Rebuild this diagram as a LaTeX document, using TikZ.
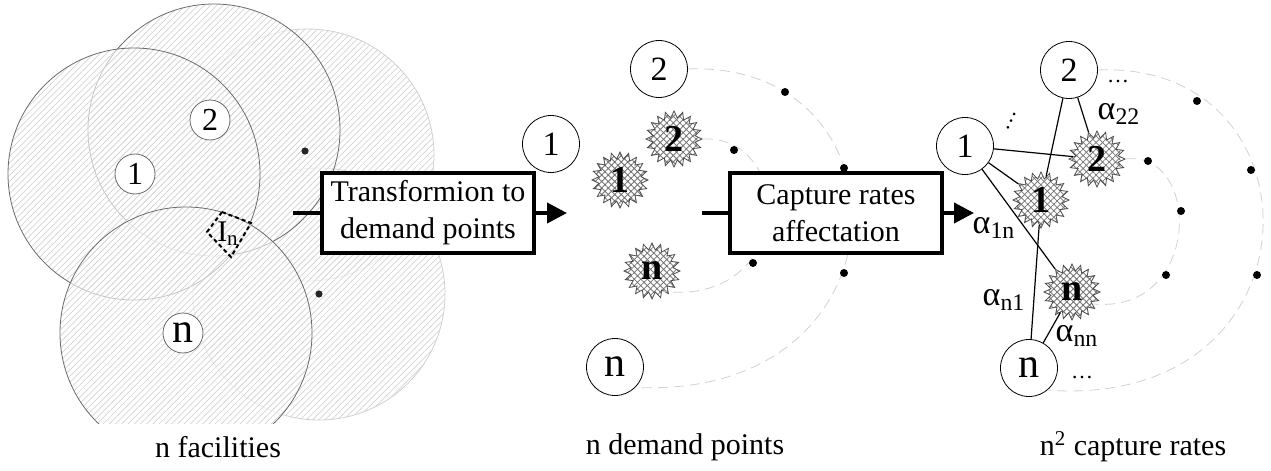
\documentclass[tikz,border=0pt]{standalone}
\usepackage{fontspec}
\setmainfont{Liberation Serif}
\usetikzlibrary{arrows.meta,shapes.geometric,patterns.meta}
\definecolor{hatch}{gray}{0.83}
\definecolor{rim}{gray}{0.42}
\definecolor{faint}{gray}{0.82}
\newcommand{\nbig}{\fontsize{21}{21}\selectfont}
\newcommand{\dotsfont}{\fontsize{11}{11}\selectfont}
\tikzset{
  fac/.style={circle,draw=rim,fill=white,inner sep=0pt,minimum size=20pt,font=\fontsize{16}{16}\selectfont},
  pt/.style={circle,draw,thin,fill=white,inner sep=0pt,minimum size=28.5pt,font=\fontsize{17}{17}\selectfont},
  dem/.style={star,star points=20,star point height=3.4pt,minimum size=28pt,inner sep=0pt,
    draw=black!70,thin,preaction={fill=white},
    pattern={Hatch[angle=45,distance=2.3pt,line width=0.4pt]},pattern color=black!55,
    font=\fontsize{19}{19}\selectfont\bfseries},
  proc/.style={draw,line width=1.8pt,fill=white,align=center,minimum width=106pt,minimum height=40pt,inner sep=2pt},
  flow/.style={line width=2pt},
  flowar/.style={flow,-{Triangle[length=10pt,width=10pt]}},
  orbit/.style={draw=faint,dash pattern=on 5pt off 3pt,thin},
  link/.style={draw=black,line width=0.6pt},
  rate/.style={font=\fontsize{17}{17}\selectfont},
}
\begin{document}
\begin{tikzpicture}[x=0.5pt,y=-0.5pt,font=\fontsize{15}{18.5}\selectfont]
  \useasboundingbox (0,0) rectangle (1271,471);
  % facility ranges
  \begin{scope}
    \clip (0,0) rectangle (460,423);
    \foreach \cx/\cy/\col in {308/155/faint,319/294/faint,214/130/rim,134/174/rim,186/333/rim} {
      \fill[white,fill opacity=0.6] (\cx,\cy) circle[radius=63pt];
      \fill[pattern={Lines[angle=45,distance=2.2pt,line width=0.35pt]},pattern color=hatch] (\cx,\cy) circle[radius=63pt];
      \draw[\col,thin] (\cx,\cy) circle[radius=63pt];
    }
  \end{scope}
  \fill[black!85] (305,151) circle[radius=1.8pt];
  \fill[black!85] (319,294) circle[radius=1.8pt];
  \node[fac] (f1) at (135,174) {1};
  \node[fac] (f2) at (210,120) {2};
  \node[fac,font=\nbig] (fn) at (183,333) {n};
  \node[inner sep=0pt] (In) at (228,234) {I\textsubscript{n}};
  \draw[dash pattern=on 2pt off 1.5pt,line width=1pt] (222,212) -- (251,223) -- (231,257) -- (207,232) -- cycle;

  \node[proc] (tr) at (428,213) {Transformion to\\demand points};
  \coordinate (tr-in) at (293,213);
  \coordinate (tr-out) at (567,213);
  \draw[flow] (tr-in) -- (tr);
  \draw[flowar] (tr) -- (tr-out);

  % demand points
  \node[pt] (d1) at (551,144) {1};
  \node[pt] (d2) at (659,69) {2};
  \node[pt,font=\nbig] (dn) at (615,367) {n};
  \node[dem] (s1) at (620,180) {1};
  \node[dem] (s2) at (674,139) {2};
  \node[dem] (sn) at (652,271) {n};
  \draw[orbit] (d2.east) .. controls (915,60) and (915,400) .. (dn.-45);
  \draw[orbit] (s2.east) .. controls (795,135) and (795,305) .. (sn.-60);
  \foreach \px/\py in {785/92,734/150,844/168,753/263,844/273}
    \fill (\px,\py) circle[radius=2pt];

  \node[proc] (ca) at (836,213) {Capture rates\\affectation};
  \coordinate (ca-in) at (702,213);
  \coordinate (ca-out) at (974,213);
  \draw[flow] (ca-in) -- (ca);
  \draw[flowar] (ca) -- (ca-out);

  % capture rates
  \node[pt] (r1) at (965,146) {1};
  \node[pt] (r2) at (1069,70) {2};
  \node[pt,font=\nbig] (rn) at (1029,368) {n};
  \draw[orbit] (r2.east) .. controls (1326,60) and (1326,410) .. (rn.-50);
  \node[dem] (t1) at (1041,200) {1};
  \node[dem] (t2) at (1097,159) {2};
  \node[dem] (tn) at (1072,292) {n};
  \draw[orbit] (t2.east) .. controls (1202,150) and (1202,315) .. (tn.-30);
  \foreach \a/\b in {r1/t1,r1/t2,r1/tn,r2/t1,r2/t2,rn/t1,rn/tn}
    \draw[link] (\a) -- (\b);
  \foreach \px/\py in {1197/101,1148/161,1251/170,1181/211,1166/275,1257/275}
    \fill (\px,\py) circle[radius=2pt];
  \node[rate] (a22) at (1119,114) {α\textsubscript{22}};
  \node[rate] (a1n) at (994,228) {α\textsubscript{1n}};
  \node[rate] (an1) at (1004,300) {α\textsubscript{n1}};
  \node[rate] (ann) at (1077,336) {α\textsubscript{nn}};
  \node[inner sep=0pt,font=\dotsfont] (e2) at (1118,82) {\ldots};
  \node[inner sep=0pt,font=\dotsfont] (en) at (1082,378) {\ldots};
  \node[inner sep=0pt,font=\dotsfont,rotate=65] (e1) at (1011,121) {\ldots};

  \node (cap1) at (218,447) {n facilities};
  \node (cap2) at (685,447) {n demand points};
  \node (cap3) at (1133,447) {n\textsuperscript{2} capture rates};
\end{tikzpicture}
\end{document}
